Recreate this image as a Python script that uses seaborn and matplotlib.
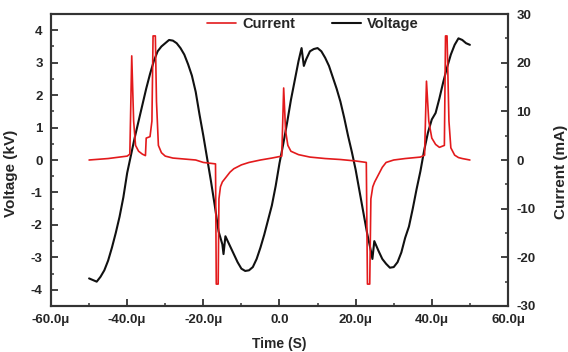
import numpy as np
import pandas as pd
import matplotlib
matplotlib.use("Agg")
import matplotlib.pyplot as plt
from matplotlib.ticker import MultipleLocator
import seaborn as sns

# voltage trace (time in microseconds, kV)
volt_t = [-50, -49, -48, -47, -46, -45, -44, -43, -42, -41, -40, -39, -38, -37, -36,
          -35, -34, -33, -32, -31, -30, -29, -28, -27, -26, -25, -24, -23, -22, -21,
          -20, -19, -18, -17, -16, -15, -14.7, -14.2, -13, -12, -11, -10, -9, -8, -7,
          -6, -5, -4, -3, -2, -1, 0, 1, 2, 3, 4, 5, 5.8, 6.4, 7, 8, 9, 10, 11, 12, 13,
          14, 15, 16, 17, 18, 19, 20, 21, 22, 23, 24, 24.4, 24.9, 26, 27, 28, 29, 30,
          31, 32, 33, 34, 35, 36, 37, 38, 39, 40, 41, 42, 43, 44, 45, 46, 47, 48, 49, 50]
volt_kv = [-3.65, -3.7, -3.75, -3.6, -3.4, -3.1, -2.7, -2.25, -1.75, -1.15, -0.4, 0.15,
           0.7, 1.2, 1.7, 2.2, 2.65, 3.05, 3.35, 3.5, 3.6, 3.7, 3.68, 3.6, 3.45, 3.25,
           2.95, 2.6, 2.1, 1.4, 0.75, 0.05, -0.65, -1.4, -2.2, -2.6, -2.9, -2.35, -2.65,
           -2.9, -3.15, -3.35, -3.42, -3.4, -3.3, -3.05, -2.7, -2.3, -1.85, -1.4, -0.8,
           -0.1, 0.5, 1.15, 1.85, 2.45, 3.05, 3.45, 2.9, 3.1, 3.35, 3.42, 3.45, 3.35,
           3.15, 2.9, 2.55, 2.2, 1.8, 1.3, 0.75, 0.25, -0.3, -0.95, -1.6, -2.25, -2.8,
           -3.05, -2.5, -2.8, -3.05, -3.2, -3.32, -3.3, -3.15, -2.85, -2.4, -2.05, -1.5,
           -0.9, -0.35, 0.3, 0.85, 1.25, 1.45, 1.9, 2.4, 2.85, 3.25, 3.55, 3.75, 3.7,
           3.6, 3.55]

# current trace (time in microseconds, mA)
curr_t = [-50, -45, -40, -39.3, -38.8, -38.3, -37.8, -37, -36, -35.2, -35, -34, -33.5,
          -33.2, -32.6, -32.3, -31.8, -31, -30, -28, -25, -22, -20, -16.8, -16.6, -16.1,
          -15.9, -15.5, -15, -14, -13, -12, -10, -8, -5, -2, 0.6, 1.1, 1.6, 2.2, 3, 5,
          8, 12, 16, 20, 22.8, 23.1, 23.7, 24, 24.5, 25, 26, 27, 28, 30, 33, 37, 38.1,
          38.6, 39.2, 40, 41, 42, 43.3, 43.6, 44, 44.5, 45, 46, 47, 48, 50]
curr_ma = [0, 0.3, 0.8, 1.2, 21.4, 8, 3, 1.8, 1.2, 0.9, 4.5, 4.8, 8, 25.5, 25.5, 12, 3,
           1.5, 0.8, 0.4, 0.2, 0, -0.5, -0.8, -25.5, -25.5, -8, -5.5, -4.5, -3.5, -2.5,
           -1.8, -1, -0.5, 0, 0.4, 0.8, 14.8, 6, 3, 1.8, 1.1, 0.6, 0.3, 0.1, -0.2, -0.5,
           -25.5, -25.5, -8, -5.5, -4.5, -3, -1.5, -0.5, 0, 0.3, 0.6, 1, 16.2, 8, 4.5,
           3.2, 2.6, 3, 25.5, 25.5, 8, 2.5, 1, 0.5, 0.3, 0]

x_ticks = [-60, -40, -20, 0, 20, 40, 60]
x_ticklabels = ["-60.0\u03bc", "-40.0\u03bc", "-20.0\u03bc", "0.0", "20.0\u03bc", "40.0\u03bc", "60.0\u03bc"]

volt = pd.DataFrame({"t": volt_t, "v": volt_kv})
curr = pd.DataFrame({"t": curr_t, "i": curr_ma})

sns.set_style("ticks")
plt.rcParams["font.family"] = ["Liberation Sans", "DejaVu Sans"]
plt.rcParams["font.weight"] = "bold"
plt.rcParams["axes.unicode_minus"] = False

fig = plt.figure(figsize=(5.68, 3.52), dpi=100)
ax = fig.add_axes([0.0898, 0.1307, 0.8045, 0.8295])
ax2 = ax.twinx()

sns.lineplot(data=volt, x="t", y="v", ax=ax, color="#111111", lw=1.5, estimator=None, sort=False)
sns.lineplot(data=curr, x="t", y="i", ax=ax2, color="#e31a1c", lw=1.2, estimator=None, sort=False)

ax.set_xlim(-60, 60)
ax.set_ylim(-4.5, 4.5)
ax2.set_ylim(-30, 30)
ax.set_xticks(x_ticks)
ax.set_xticklabels(x_ticklabels)
ax.set_yticks(range(-4, 5))
ax2.set_yticks(range(-30, 31, 10))
ax.xaxis.set_minor_locator(MultipleLocator(10))
ax.yaxis.set_minor_locator(MultipleLocator(0.5))
ax2.yaxis.set_minor_locator(MultipleLocator(5))

for a in (ax, ax2):
    a.tick_params(which="major", direction="in", length=5, width=1.3, color="#333333",
                  labelsize=9.5, pad=6)
    a.tick_params(which="minor", direction="in", length=2.5, width=1.1, color="#333333")
    for s in a.spines.values():
        s.set_linewidth(1.5)
        s.set_color("#333333")
for lab in ax.get_xticklabels() + ax.get_yticklabels() + ax2.get_yticklabels():
    lab.set_fontweight("bold")

ax.set_xlabel("Time (S)", fontsize=10, fontweight="bold")
ax.set_ylabel("Voltage (kV)", fontsize=11, fontweight="bold")
ax2.set_ylabel("Current (mA)", fontsize=11, fontweight="bold")
ax.xaxis.set_label_coords(0.5, -0.105)
ax.yaxis.set_label_coords(-0.072, 0.455)
ax2.yaxis.set_label_coords(1.1, 0.46)

h1 = ax.get_lines()[0]
h2 = ax2.get_lines()[0]
if ax.get_legend():
    ax.get_legend().remove()
ax2.legend([h2, h1], ["Current", "Voltage"], ncol=2, frameon=False, loc="upper center",
           bbox_to_anchor=(0.573, 1.035), handlelength=2.0, columnspacing=2.5,
           handletextpad=0.4, prop={"weight": "bold", "size": 10.5})

fig.savefig("out.png", dpi=100)
